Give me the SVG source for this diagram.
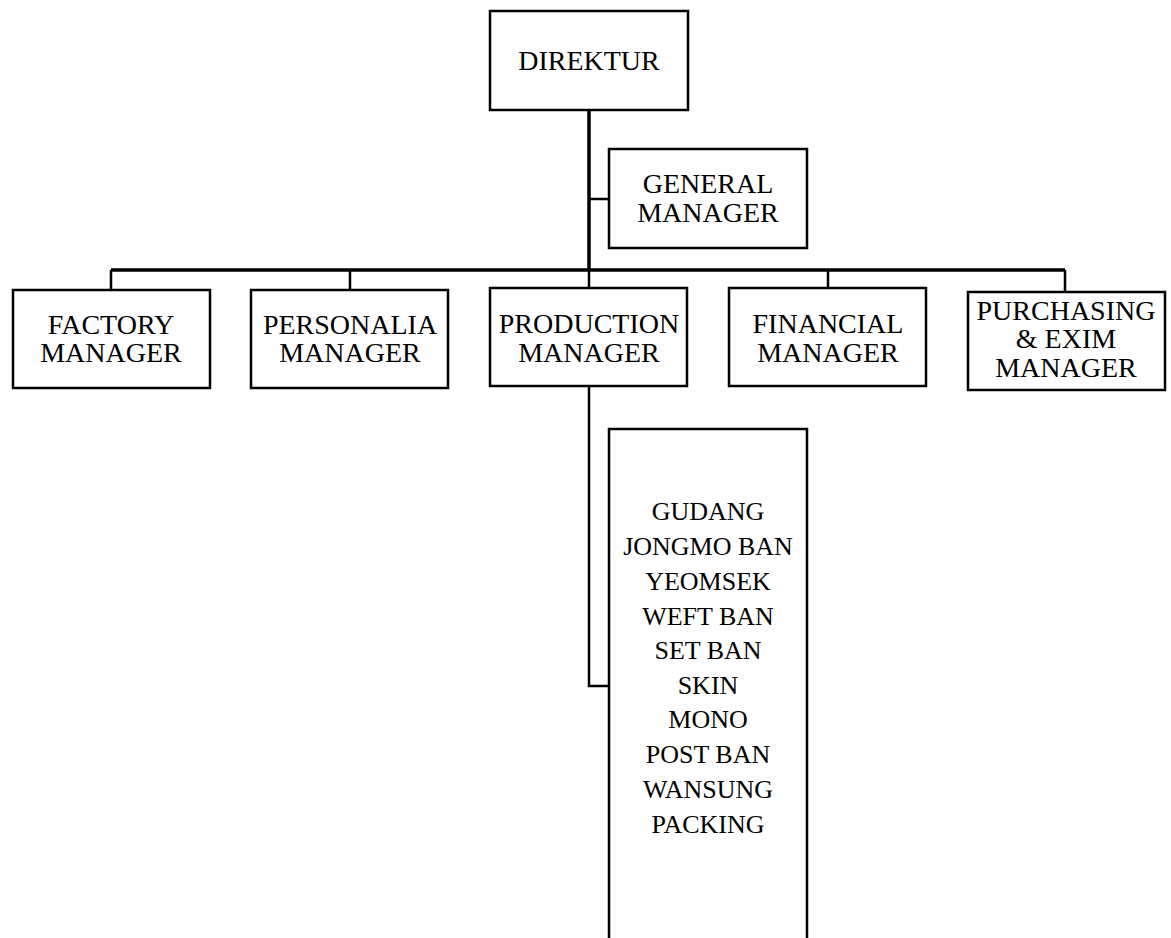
<svg xmlns="http://www.w3.org/2000/svg" width="1171" height="938" viewBox="0 0 1171 938">
<style>
.box{fill:#fff;stroke:#000;stroke-width:2.5}
.t{font-family:"Liberation Serif","Times New Roman",serif;font-size:28px;fill:#000;text-anchor:middle}
.s{font-size:26px}
.main{stroke:#000;stroke-width:3.5;fill:none}
.stub{stroke:#000;stroke-width:2.5;fill:none}
</style>
<rect width="1171" height="938" fill="#fff"/>
<g id="connectors">
<path class="main" d="M589,110 V270"/>
<path class="main" d="M111,270 H1065"/>
<path class="stub" d="M589,199 H609"/>
<path class="stub" d="M111,270 V290 M350,270 V290 M589,270 V288 M828,270 V288 M1065,270 V292"/>
<path class="stub" d="M589,386 V686 H609"/>
</g>
<g id="direktur"><rect class="box" x="490" y="11" width="198" height="99"/><text class="t" x="589" y="70">DIREKTUR</text></g>
<g id="general-manager"><rect class="box" x="609" y="149" width="198" height="99"/><text class="t" x="708" y="193">GENERAL</text><text class="t" x="708" y="222">MANAGER</text></g>
<g id="factory-manager"><rect class="box" x="13" y="290" width="197" height="98"/><text class="t" x="111" y="334">FACTORY</text><text class="t" x="111" y="362">MANAGER</text></g>
<g id="personalia-manager"><rect class="box" x="251" y="290" width="197" height="98"/><text class="t" x="350" y="334">PERSONALIA</text><text class="t" x="350" y="362">MANAGER</text></g>
<g id="production-manager"><rect class="box" x="490" y="288" width="197" height="98"/><text class="t" x="589" y="333">PRODUCTION</text><text class="t" x="589" y="362">MANAGER</text></g>
<g id="financial-manager"><rect class="box" x="729" y="288" width="197" height="98"/><text class="t" x="828" y="333">FINANCIAL</text><text class="t" x="828" y="362">MANAGER</text></g>
<g id="purchasing-manager"><rect class="box" x="968" y="292" width="197" height="98"/><text class="t" x="1066" y="320">PURCHASING</text><text class="t" x="1066" y="348">&amp; EXIM</text><text class="t" x="1066" y="377">MANAGER</text></g>
<g id="production-units"><rect class="box" x="609" y="429" width="198" height="520"/>
<text class="t s" x="708" y="520">GUDANG</text>
<text class="t s" x="708" y="555">JONGMO BAN</text>
<text class="t s" x="708" y="590">YEOMSEK</text>
<text class="t s" x="708" y="625">WEFT BAN</text>
<text class="t s" x="708" y="659">SET BAN</text>
<text class="t s" x="708" y="694">SKIN</text>
<text class="t s" x="708" y="728">MONO</text>
<text class="t s" x="708" y="763">POST BAN</text>
<text class="t s" x="708" y="798">WANSUNG</text>
<text class="t s" x="708" y="833">PACKING</text>
</g>
</svg>
